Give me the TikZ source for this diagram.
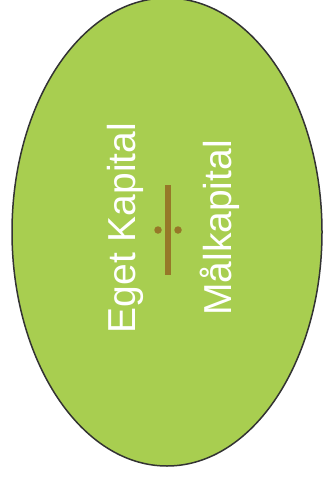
\documentclass[tikz,border=0pt]{standalone}
\usepackage{fontspec}
\setmainfont{Liberation Sans}
\usepackage{tikz}
\usetikzlibrary{shapes.geometric}
\definecolor{lime}{RGB}{168,206,80}
\definecolor{barbrown}{RGB}{150,120,40}

\begin{document}
\begin{tikzpicture}[x=1pt, y=-1pt, lbl/.style={rotate=90, anchor=base, inner sep=0pt, text=white, font=\fontsize{39}{39}\selectfont}, dot/.style={circle, fill=barbrown, minimum size=7.5pt, inner sep=0pt}]
	\useasboundingbox (0,0) rectangle (324,481);
	\node[ellipse, draw=black!80, line width=1.5pt, fill=lime, minimum width=310pt, minimum height=468pt, inner sep=0pt] (cap) at (167,232) {};
	\node[lbl] (eget) at (135,228) {Eget Kapital};
	\node[lbl] (mal) at (231,228) {Målkapital};
	\node[fill=barbrown, minimum width=6pt, minimum height=90pt, inner sep=0pt] (bar) at (168,230) {};
	\foreach \x/\n in {158/l,178/r} {\node[dot] (d\n) at (\x,230) {};}
\end{tikzpicture}
\end{document}
